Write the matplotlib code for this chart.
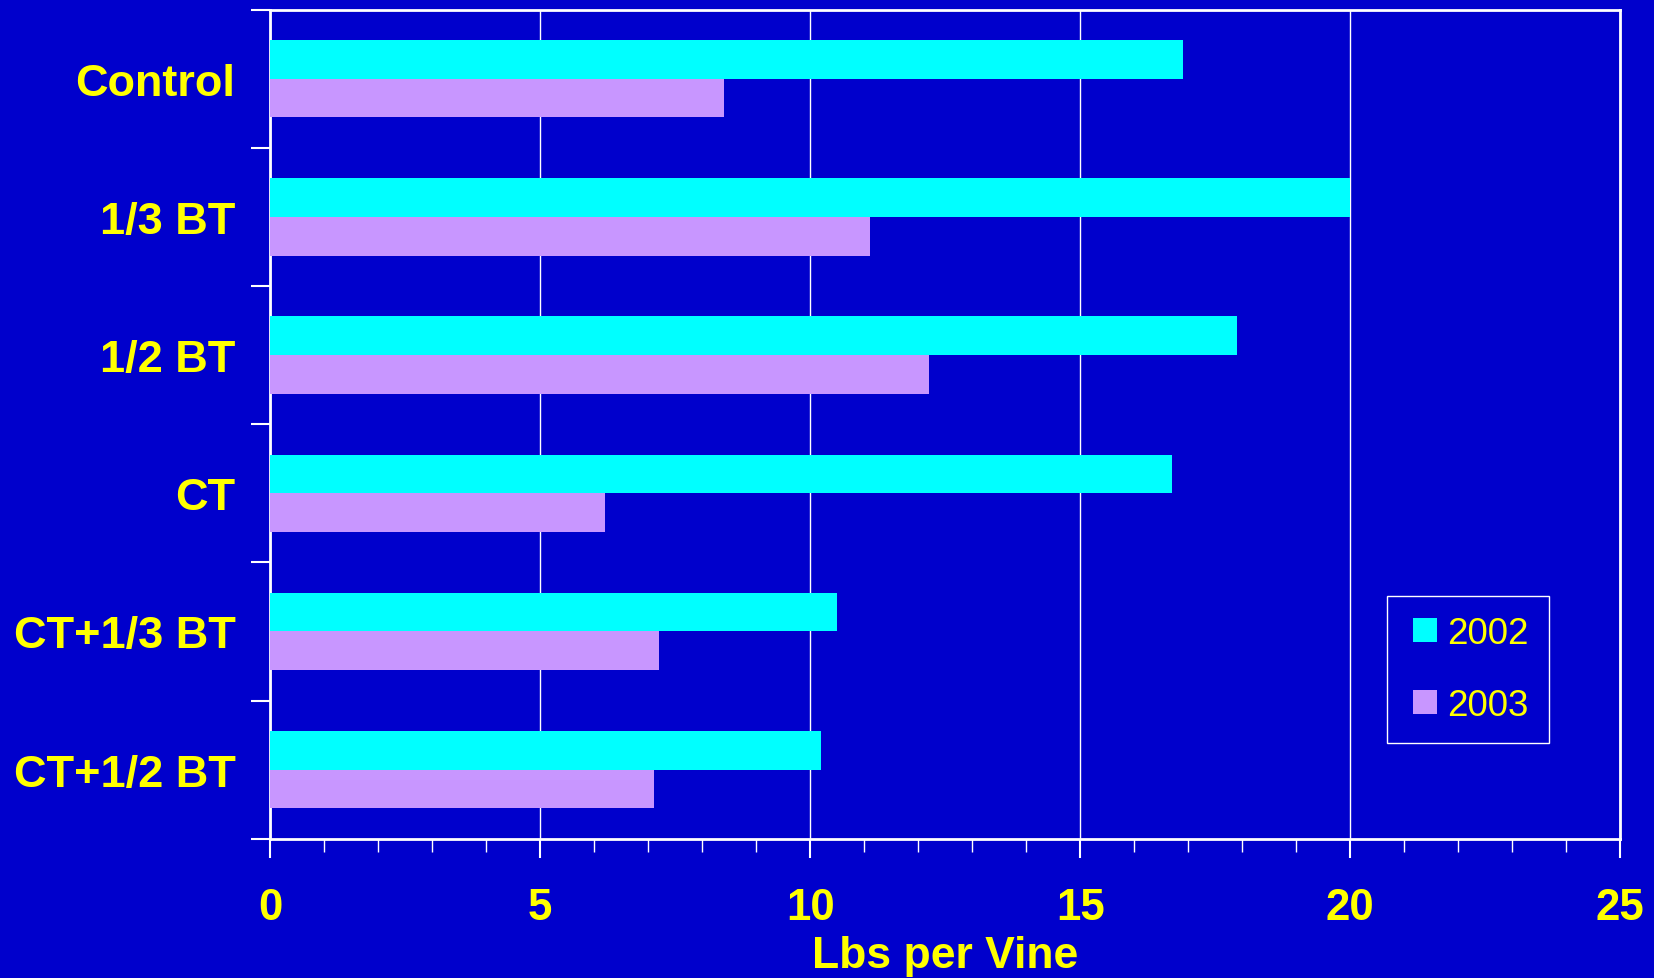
import matplotlib
matplotlib.use('Agg')
import numpy as np
import matplotlib.pyplot as plt
from matplotlib.patches import Rectangle
from matplotlib.container import BarContainer
from matplotlib.legend_handler import HandlerPatch, update_from_first_child

# data
categories = ['Control', '1/3 BT', '1/2 BT', 'CT', 'CT+1/3 BT', 'CT+1/2 BT']
lbs_2002 = [16.9, 20.0, 17.9, 16.7, 10.5, 10.2]
lbs_2003 = [8.4, 11.1, 12.2, 6.2, 7.2, 7.1]
series_names = ['2002', '2003']

bg = '#0000CC'
yellow = '#FFFF00'
c2002 = '#00FFFF'
c2003 = '#C896FF'

plt.rcParams['font.family'] = ['Liberation Sans', 'DejaVu Sans']

fig = plt.figure(figsize=(16.54, 9.79), dpi=100, facecolor=bg)
ax = fig.add_axes([0.1633, 0.1422, 0.8163, 0.847])
ax.set_facecolor(bg)

y = np.arange(len(categories))
h = 0.28
ax.barh(y - h/2, lbs_2002, height=h, color=c2002, label=series_names[0], zorder=3)
ax.barh(y + h/2, lbs_2003, height=h, color=c2003, label=series_names[1], zorder=3)

ax.set_xlim(0, 25)
ax.set_ylim(len(categories) - 0.5, -0.5)

# x axis
ax.set_xticks(np.arange(0, 26, 5))
ax.set_xticks(np.arange(0, 26, 1), minor=True)
ax.tick_params(axis='x', which='major', length=14, width=1.5, color='white',
               pad=21, labelsize=31.5, labelcolor=yellow)
ax.tick_params(axis='x', which='minor', length=9, width=1, color='white')
for lab in ax.get_xticklabels():
    lab.set_fontweight('bold')
ax.grid(axis='x', which='major', color='white', linewidth=1, zorder=1)

# y axis: marks at category boundaries, names at centres
ax.set_yticks(np.arange(-0.5, len(categories), 1))
ax.set_yticklabels([])
ax.set_yticks(y, minor=True)
ax.set_yticklabels(categories, minor=True)
ax.tick_params(axis='y', which='major', length=14, width=1.5, color='white')
ax.tick_params(axis='y', which='minor', length=0, pad=25, labelsize=32.5, labelcolor=yellow)
for lab in ax.get_yticklabels(minor=True):
    lab.set_fontweight('bold')

for s in ax.spines.values():
    s.set_color('white')
    s.set_linewidth(2)

ax.set_xlabel('Lbs per Vine', fontsize=32, fontweight='bold', color=yellow, labelpad=5)


# square legend keys sitting at the right of a wider handle box
def square_patch(legend, orig_handle, xdescent, ydescent, width, height, fontsize):
    return Rectangle((-xdescent + width - height, -ydescent), height, height)


leg = ax.legend(loc='upper left', bbox_to_anchor=(0.827, 0.293), fontsize=26.5,
                frameon=True, fancybox=False, facecolor=bg, edgecolor='white',
                labelcolor=yellow, handlelength=0.82, handleheight=0.62,
                handletextpad=0.28, labelspacing=1.0, borderpad=0.55, borderaxespad=0,
                handler_map={BarContainer: HandlerPatch(patch_func=square_patch,
                                                        update_func=update_from_first_child)})
leg.get_frame().set_linewidth(1)
leg.get_frame().set_alpha(1)

fig.savefig('out.png', dpi=100, facecolor=bg)
